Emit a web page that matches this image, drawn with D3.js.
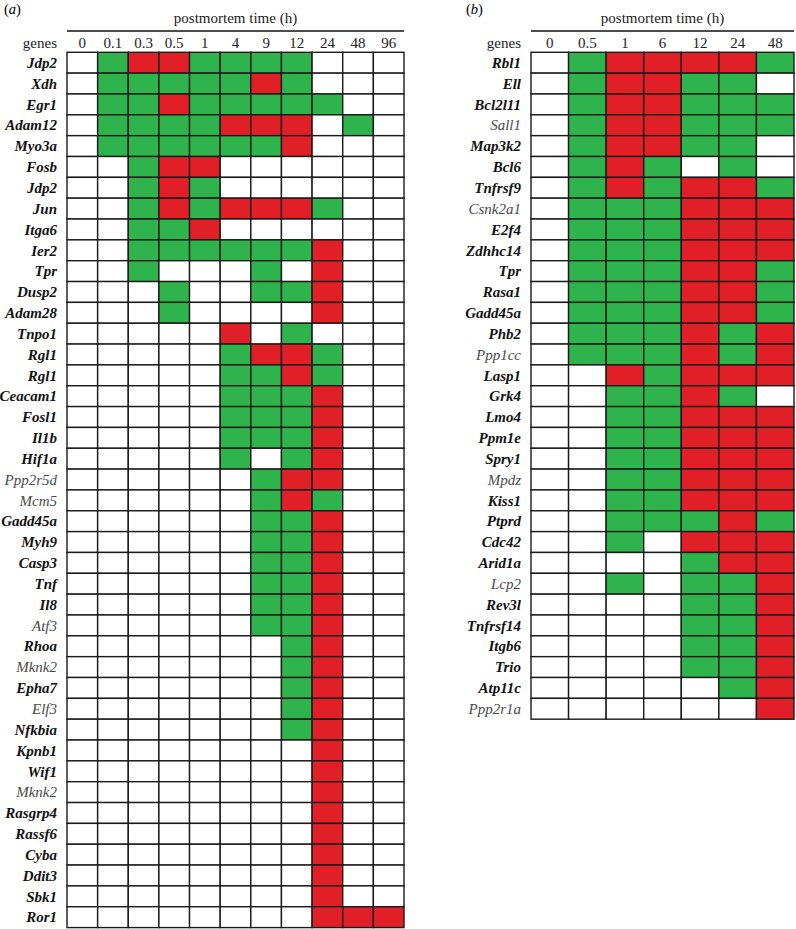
<!DOCTYPE html>
<html>
<head>
<meta charset="utf-8">
<script src="https://cdn.jsdelivr.net/npm/d3@7"></script>
<style>
  body { margin: 0; background: #fff; }
</style>
</head>
<body>
<div id="chart"></div>
<script>
// panel (a)
const timesA = ["0", "0.1", "0.3", "0.5", "1", "4", "9", "12", "24", "48", "96"];
const genesA = ["Jdp2", "Xdh", "Egr1", "Adam12", "Myo3a", "Fosb", "Jdp2", "Jun", "Itga6", "Ier2",
  "Tpr", "Dusp2", "Adam28", "Tnpo1", "Rgl1", "Rgl1", "Ceacam1", "Fosl1", "Il1b", "Hif1a",
  "Ppp2r5d", "Mcm5", "Gadd45a", "Myh9", "Casp3", "Tnf", "Il8", "Atf3", "Rhoa", "Mknk2",
  "Epha7", "Elf3", "Nfkbia", "Kpnb1", "Wif1", "Mknk2", "Rasgrp4", "Rassf6", "Cyba", "Ddit3",
  "Sbk1", "Ror1"];
// g = green, r = red, - = empty; one char per time point
const statesA = [
  "-grrgggg---", "-gggggrg---", "-ggrggggg--", "-ggggrrr-g-", "-ggggggr---",
  "--grr------", "--grg------", "--grgrrrg--", "--ggr------", "--ggggggr--",
  "--g---g-r--", "---g--ggr--", "---g----r--", "-----r-g---", "-----grrg--",
  "-----ggrg--", "-----gggr--", "-----gggr--", "-----gggr--", "-----g-gr--",
  "------grr--", "------grg--", "------ggr--", "------ggr--", "------ggr--",
  "------ggr--", "------ggr--", "------ggr--", "-------gr--", "-------gr--",
  "-------gr--", "-------gr--", "-------gr--", "--------r--", "--------r--",
  "--------r--", "--------r--", "--------r--", "--------r--", "--------r--",
  "--------r--", "--------rrr"];
const plainA = ["Ppp2r5d", "Mcm5", "Atf3", "Mknk2", "Elf3"];

// panel (b)
const timesB = ["0", "0.5", "1", "6", "12", "24", "48"];
const genesB = ["Rbl1", "Ell", "Bcl2l11", "Sall1", "Map3k2", "Bcl6", "Tnfrsf9", "Csnk2a1", "E2f4", "Zdhhc14",
  "Tpr", "Rasa1", "Gadd45a", "Phb2", "Ppp1cc", "Lasp1", "Grk4", "Lmo4", "Ppm1e", "Spry1",
  "Mpdz", "Kiss1", "Ptprd", "Cdc42", "Arid1a", "Lcp2", "Rev3l", "Tnfrsf14", "Itgb6", "Trio",
  "Atp11c", "Ppp2r1a"];
const statesB = [
  "-grrrrg", "-grrgg-", "-grrggg", "-grrggg", "-grrgg-",
  "-grg-g-", "-grgrrg", "-gggrrr", "-gggrrr", "-gggrrr",
  "-gggrrg", "-gggrrg", "-gggrrg", "-gggrgr", "-gggrgr",
  "--rgrrr", "--ggrg-", "--ggrrr", "--ggrrr", "--ggrrr",
  "--ggrrr", "--ggrrr", "--gggrg", "--g-rrr", "----grr",
  "--g-ggr", "----ggr", "----ggr", "----ggr", "----ggr",
  "-----gr", "------r"];
const plainB = ["Sall1", "Csnk2a1", "Ppp1cc", "Mpdz", "Lcp2", "Ppp2r1a"];

const colors = {g: "#2fb34c", r: "#e01f27", "-": "#ffffff"};
const serif = '"Liberation Serif", "Times New Roman", serif';

const width = 796, height = 929;
const svg = d3.select("#chart").append("svg")
  .attr("width", width)
  .attr("height", height)
  .attr("font-family", serif);

function drawPanel(cfg) {
  const rowH = 20.84;
  const x = d3.scaleBand().domain(cfg.times).range([cfg.left, cfg.right]);
  const y = d3.scaleBand().domain(d3.range(cfg.genes.length))
    .range([cfg.top, cfg.top + rowH * cfg.genes.length]);

  const g = svg.append("g");

  // panel letter
  g.append("text")
    .attr("x", cfg.letterX).attr("y", 14)
    .attr("font-size", 14.5)
    .html(`(<tspan font-style="italic">${cfg.letter}</tspan>)`);

  // header
  g.append("text")
    .attr("x", (cfg.left + cfg.right) / 2).attr("y", 23)
    .attr("text-anchor", "middle")
    .attr("font-size", 15)
    .attr("fill", "#222")
    .text("postmortem time (h)");
  g.append("line")
    .attr("x1", cfg.left).attr("x2", cfg.right)
    .attr("y1", 31).attr("y2", 31)
    .attr("stroke", "#111").attr("stroke-width", 1.3);

  g.append("text")
    .attr("x", cfg.left - 10).attr("y", 48)
    .attr("text-anchor", "end")
    .attr("font-size", 15)
    .attr("fill", "#222")
    .text("genes");

  g.selectAll(".tlab").data(cfg.times).join("text")
    .attr("x", d => x(d) + x.bandwidth() / 2)
    .attr("y", 48)
    .attr("text-anchor", "middle")
    .attr("font-size", 15)
    .attr("fill", "#222")
    .text(d => d);

  // cells
  const cells = [];
  cfg.states.forEach((s, i) => {
    s.split("").forEach((c, j) => cells.push({row: i, time: cfg.times[j], c}));
  });
  g.selectAll(".cell").data(cells).join("rect")
    .attr("x", d => x(d.time))
    .attr("y", d => y(d.row))
    .attr("width", x.bandwidth())
    .attr("height", y.bandwidth())
    .attr("fill", d => colors[d.c])
    .attr("stroke", "#1a1a1a")
    .attr("stroke-width", 1.4);

  // gene labels
  g.selectAll(".glab").data(cfg.genes).join("text")
    .attr("x", cfg.left - 10)
    .attr("y", (d, i) => y(i) + y.bandwidth() / 2)
    .attr("dy", "0.35em")
    .attr("text-anchor", "end")
    .attr("font-size", 15)
    .attr("font-style", "italic")
    .attr("font-weight", d => cfg.plain.includes(d) ? "normal" : "bold")
    .attr("fill", d => cfg.plain.includes(d) ? "#4a4a4a" : "#111")
    .text(d => d);
}

drawPanel({letter: "a", letterX: 4, times: timesA, genes: genesA, states: statesA, plain: plainA,
  left: 67, right: 404, top: 52.3});
drawPanel({letter: "b", letterX: 466, times: timesB, genes: genesB, states: statesB, plain: plainB,
  left: 531, right: 794, top: 52.3});
</script>
</body>
</html>
